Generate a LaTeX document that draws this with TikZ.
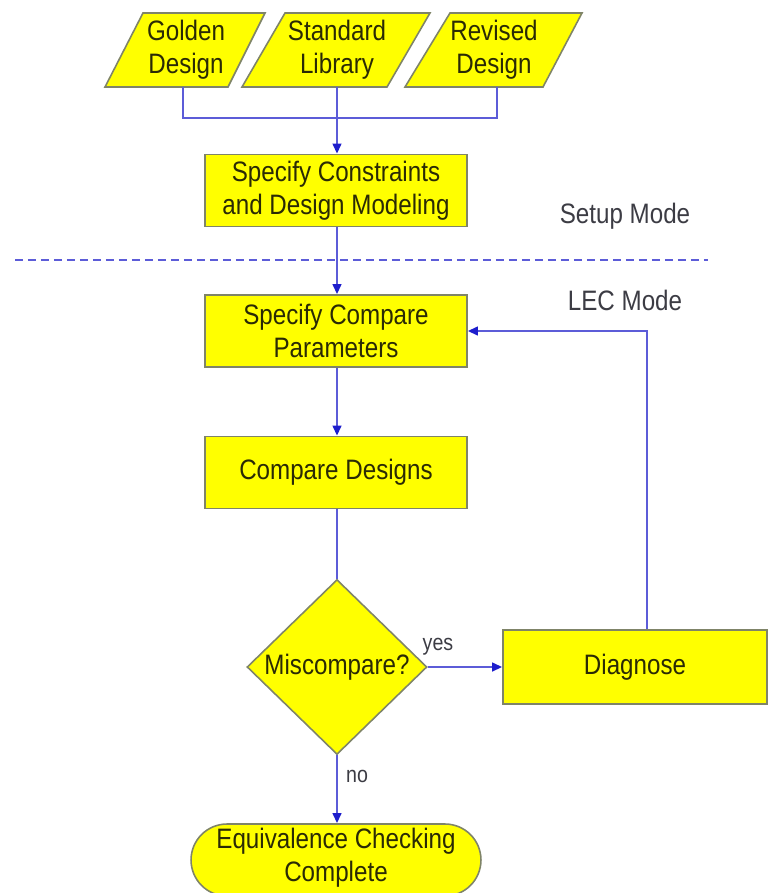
\documentclass[tikz,border=0pt]{standalone}
\usepackage{fontspec}
\setmainfont[FakeStretch=0.86]{Liberation Sans}
\usetikzlibrary{shapes.geometric,arrows.meta,calc}
\definecolor{fillY}{HTML}{FFFF00}
\definecolor{edgeG}{HTML}{7F8468}
\definecolor{lineB}{HTML}{5C5CD8}
\definecolor{tipB}{HTML}{1E1ECC}
\definecolor{txtD}{HTML}{2A2A05}
\definecolor{txtG}{HTML}{3C3C44}
\begin{document}
\begin{tikzpicture}[x=0.02cm,y=-0.02cm,
  para/.style={fill=fillY,draw=edgeG,line width=0.9pt,line join=miter},
  boxn/.style={rectangle,fill=fillY,draw=edgeG,line width=0.9pt,minimum width=5.24cm,minimum height=1.44cm,inner sep=0pt},
  dia/.style={diamond,fill=fillY,draw=edgeG,line width=0.9pt,minimum width=3.6cm,minimum height=3.5cm,inner sep=0pt},
  term/.style={rectangle,rounded corners=0.72cm,fill=fillY,draw=edgeG,line width=0.9pt,minimum width=5.8cm,minimum height=1.44cm,inner sep=0pt},
  txt/.style={text=txtD,font=\fontsize{16}{19}\selectfont,align=center,inner sep=0pt},
  lbl/.style={text=txtG,font=\fontsize{16}{19}\selectfont,inner sep=0pt},
  small/.style={text=txtG,font=\fontsize{13}{15}\selectfont,inner sep=0pt},
  conn/.style={draw=lineB,line width=1.3pt},
  arr/.style={conn,-{Triangle[length=0.2cm,width=0.17cm,color=tipB]}},
  sep/.style={draw=lineB,line width=1.3pt,dash pattern=on 0.16cm off 0.1cm}]
\useasboundingbox (0,0) rectangle (770,893);
\clip (0,0) rectangle (770,893);

% input parallelograms
\draw[para] (143,13) -- (265,13) -- (228,87) -- (105,87) -- cycle;
\draw[para] (285,13) -- (430,13) -- (387,87) -- (242,87) -- cycle;
\draw[para] (450,13) -- (582,13) -- (543,87) -- (405,87) -- cycle;
\node[txt] (gold) at (186,50) {Golden\\Design};
\node[txt] (stdl) at (337,50) {Standard\\Library};
\node[txt] (revd) at (494,50) {Revised\\Design};
\coordinate (gb) at (183,87);
\coordinate (sb) at (337,87);
\coordinate (rb) at (497,87);
\coordinate (jn) at (337,118);

% main boxes
\node[boxn] (scm) at (336,190.5) {};
\node[txt] at (scm) {Specify Constraints\\and Design Modeling};
\node[boxn] (scp) at (336,331) {};
\node[txt] at (scp) {Specify Compare\\Parameters};
\node[boxn] (cmp) at (336,472.5) {};
\node[txt] at (cmp) {Compare Designs};
\node[dia] (mis) at (337,667) {};
\node[txt] at (mis) {Miscompare?};
\node[rectangle,fill=fillY,draw=edgeG,line width=0.9pt,minimum width=5.28cm,minimum height=1.48cm,inner sep=0pt] (diag) at (635,667) {};
\node[txt] at (diag) {Diagnose};
\node[term] (done) at (336,860) {};
\node[txt] at (336,858) {Equivalence Checking\\Complete};

% separator and mode labels
\coordinate (dl) at (15,260);
\coordinate (dr) at (708,260);
\draw[sep] (dl) -- (dr);
\node[lbl] (setup) at (625,216) {Setup Mode};
\node[lbl] (lec) at (625,300) {LEC Mode};

% connectors
\draw[conn] (gb) |- (jn);
\draw[conn] (rb) |- (jn);
\draw[conn] (sb) -- (jn);
\draw[arr] (jn) -- (scm.north -| jn);
\draw[arr] (scm.south -| jn) -- (scp.north -| jn);
\draw[arr] (scp.south -| jn) -- (cmp.north -| jn);
\draw[conn] (cmp.south -| jn) -- (mis.north);
\draw[arr] (mis.east) -- (diag.west);
\node[small] (yes) at (438,647) {yes};
\draw[arr] ($(diag.north)+(12,0)$) |- (scp.east);
\draw[arr] (mis.south) -- (done.north -| mis.south);
\node[small] (no) at (357,776) {no};
\end{tikzpicture}
\end{document}
